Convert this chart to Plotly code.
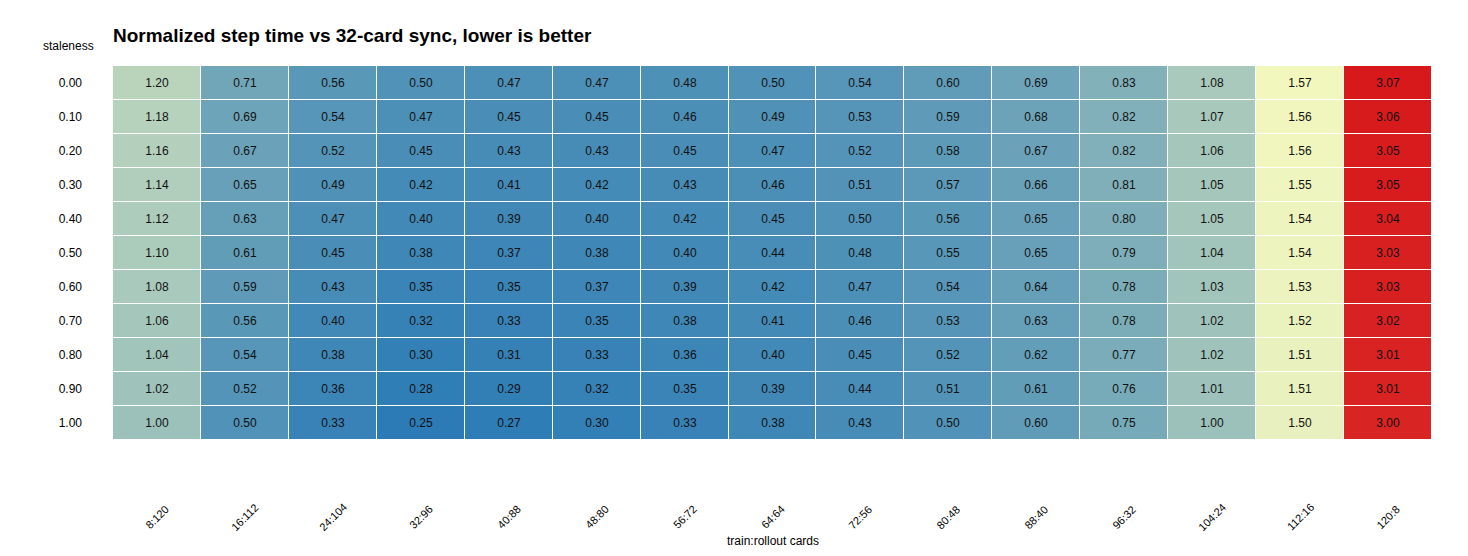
import plotly.graph_objects as go

columns = ["8:120", "16:112", "24:104", "32:96", "40:88", "48:80", "56:72", "64:64",
           "72:56", "80:48", "88:40", "96:32", "104:24", "112:16", "120:8"]
staleness = ["0.00", "0.10", "0.20", "0.30", "0.40", "0.50", "0.60", "0.70", "0.80", "0.90", "1.00"]

row_000 = [1.20, 0.71, 0.56, 0.50, 0.47, 0.47, 0.48, 0.50, 0.54, 0.60, 0.69, 0.83, 1.08, 1.57, 3.07]
row_010 = [1.18, 0.69, 0.54, 0.47, 0.45, 0.45, 0.46, 0.49, 0.53, 0.59, 0.68, 0.82, 1.07, 1.56, 3.06]
row_020 = [1.16, 0.67, 0.52, 0.45, 0.43, 0.43, 0.45, 0.47, 0.52, 0.58, 0.67, 0.82, 1.06, 1.56, 3.05]
row_030 = [1.14, 0.65, 0.49, 0.42, 0.41, 0.42, 0.43, 0.46, 0.51, 0.57, 0.66, 0.81, 1.05, 1.55, 3.05]
row_040 = [1.12, 0.63, 0.47, 0.40, 0.39, 0.40, 0.42, 0.45, 0.50, 0.56, 0.65, 0.80, 1.05, 1.54, 3.04]
row_050 = [1.10, 0.61, 0.45, 0.38, 0.37, 0.38, 0.40, 0.44, 0.48, 0.55, 0.65, 0.79, 1.04, 1.54, 3.03]
row_060 = [1.08, 0.59, 0.43, 0.35, 0.35, 0.37, 0.39, 0.42, 0.47, 0.54, 0.64, 0.78, 1.03, 1.53, 3.03]
row_070 = [1.06, 0.56, 0.40, 0.32, 0.33, 0.35, 0.38, 0.41, 0.46, 0.53, 0.63, 0.78, 1.02, 1.52, 3.02]
row_080 = [1.04, 0.54, 0.38, 0.30, 0.31, 0.33, 0.36, 0.40, 0.45, 0.52, 0.62, 0.77, 1.02, 1.51, 3.01]
row_090 = [1.02, 0.52, 0.36, 0.28, 0.29, 0.32, 0.35, 0.39, 0.44, 0.51, 0.61, 0.76, 1.01, 1.51, 3.01]
row_100 = [1.00, 0.50, 0.33, 0.25, 0.27, 0.30, 0.33, 0.38, 0.43, 0.50, 0.60, 0.75, 1.00, 1.50, 3.00]

z = [row_000, row_010, row_020, row_030, row_040, row_050,
     row_060, row_070, row_080, row_090, row_100]

FONT = "Liberation Sans, Arial, sans-serif"

fig = go.Figure(go.Heatmap(
    x=columns, y=staleness, z=z,
    colorscale=[[0.0, "#2c7bb6"], [0.5, "#ffffbf"], [1.0, "#d7191c"]],
    zmin=0.25, zmax=3.07,
    showscale=False,
    xgap=1, ygap=1,
    texttemplate="%{z:.2f}",
    textfont=dict(family=FONT, size=12, color="#111111"),
    hovertemplate="%{x}<br>staleness %{y}<br>%{z:.2f}<extra></extra>",
))

annotations = []
for c in columns:
    annotations.append(dict(
        x=c, xref="x", y=-0.205, yref="paper", text=c, showarrow=False,
        textangle=-45, xanchor="center", yanchor="middle",
        font=dict(family=FONT, size=11, color="black"),
    ))
annotations.append(dict(
    x=0.5, xref="paper", y=-0.27, yref="paper", text="train:rollout cards",
    showarrow=False, xanchor="center", yanchor="middle",
    font=dict(family=FONT, size=12, color="black"),
))
annotations.append(dict(
    x=-0.034, xref="paper", y=1.053, yref="paper", text="staleness",
    showarrow=False, xanchor="center", yanchor="middle",
    font=dict(family=FONT, size=12, color="black"),
))

fig.update_layout(
    width=1468, height=556,
    margin=dict(l=113, r=36, t=66, b=116),
    paper_bgcolor="white", plot_bgcolor="white",
    title=dict(text="<b>Normalized step time vs 32-card sync, lower is better</b>",
               x=113 / 1468, xanchor="left", y=1 - 35 / 556, yanchor="middle",
               font=dict(family=FONT, size=19, color="black")),
    xaxis=dict(showticklabels=False, showgrid=False, zeroline=False, ticks=""),
    yaxis=dict(autorange="reversed", showgrid=False, zeroline=False, ticks="",
               tickfont=dict(family=FONT, size=12, color="black"),
               ticklabelstandoff=30),
    annotations=annotations,
)

fig.write_html("out.html")
